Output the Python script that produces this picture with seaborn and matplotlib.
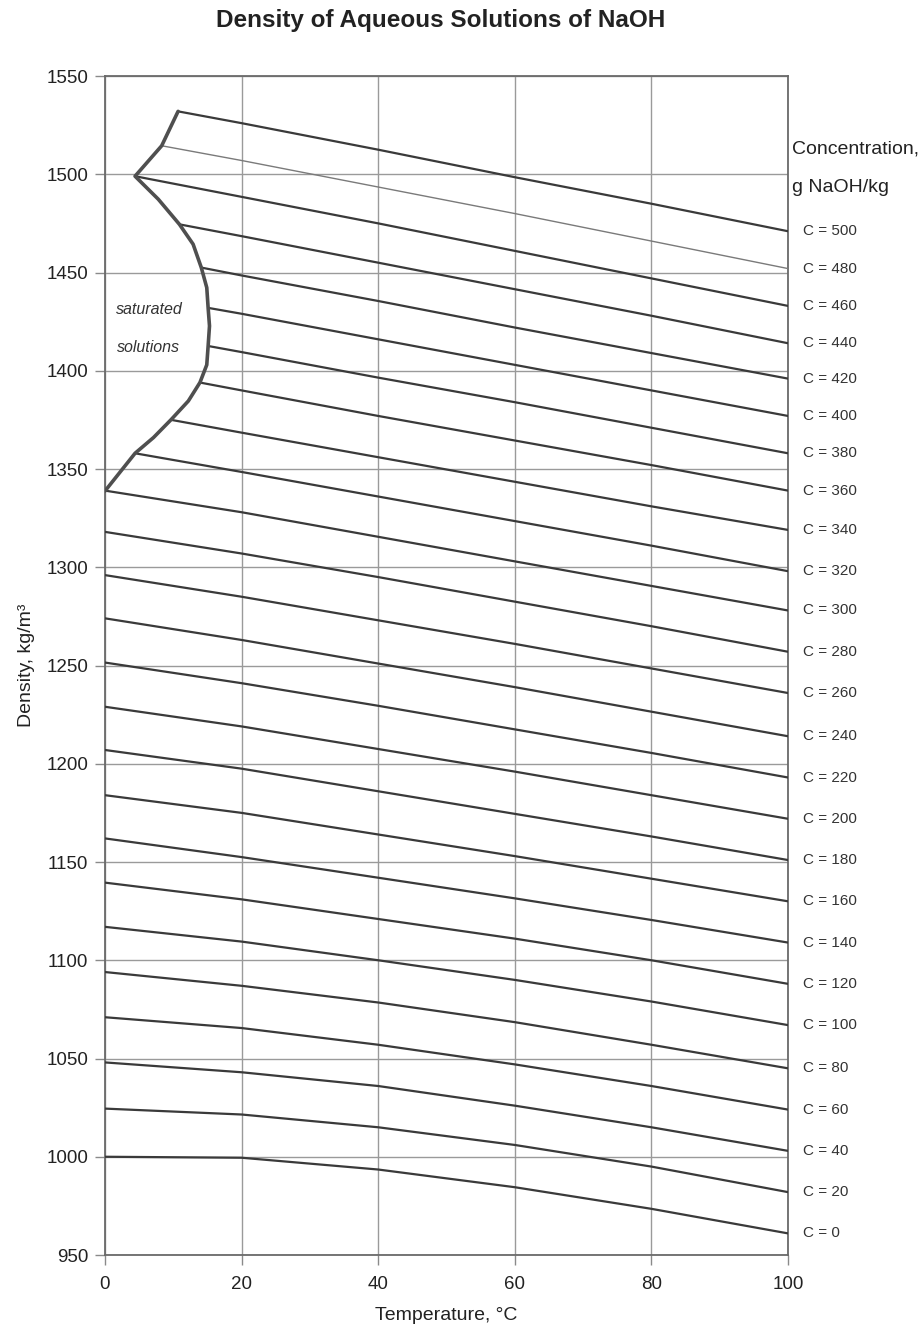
import matplotlib
matplotlib.use("Agg")
import matplotlib.pyplot as plt
import seaborn as sns
import pandas as pd

# ---------------- data ----------------
concentrations = [0, 20, 40, 60, 80, 100, 120, 140, 160, 180, 200, 220, 240,
                  260, 280, 300, 320, 340, 360, 380, 400, 420, 440, 460, 480, 500]
# starting point of each isoline (T=0 or on the saturation curve)
start_T = [0, 0, 0, 0, 0, 0, 0, 0, 0, 0, 0, 0, 0, 0, 0, 0,
           4.4, 9.7, 13.9, 15.1, 15.1, 14.1, 10.9, 4.4, 8.3, 10.7]
start_D = [1000, 1024.5, 1048, 1071, 1094, 1117, 1139.5, 1162, 1184, 1207,
           1229, 1251.5, 1274, 1296, 1318, 1339, 1358, 1375, 1394, 1412.6,
           1432, 1452.5, 1474.5, 1499, 1514.5, 1532]
dens_T20 = [999.5, 1021.5, 1043, 1065.5, 1087, 1109.5, 1131, 1152.5, 1175, 1197.5,
            1219, 1241, 1263, 1285, 1307, 1328, 1348.5, 1368.5, 1390, 1409.5,
            1429, 1448.5, 1468.5, 1488.5, 1507, 1526]
dens_T40 = [993.5, 1015, 1036, 1057, 1078.5, 1100, 1121, 1142, 1164, 1186,
            1207.5, 1229.5, 1251, 1273, 1295, 1315.5, 1336, 1356, 1377, 1396.5,
            1416, 1435.5, 1455, 1475, 1493.5, 1512.5]
dens_T60 = [984.5, 1006, 1026, 1047, 1068.5, 1090, 1111, 1131.5, 1153, 1174.5,
            1196, 1217.5, 1239, 1261, 1282.5, 1303, 1323.5, 1343.5, 1364.5, 1384,
            1403, 1422, 1441.5, 1461, 1480, 1498.5]
dens_T80 = [973.5, 995, 1015, 1036, 1057, 1079, 1100, 1120.5, 1141.5, 1163,
            1184, 1205.5, 1226.5, 1248.5, 1270, 1290.5, 1311, 1331, 1352, 1371,
            1390, 1409, 1428, 1447, 1466, 1485]
dens_T100 = [961, 982, 1003, 1024, 1045, 1067, 1088, 1109, 1130, 1151,
             1172, 1193, 1214, 1236, 1257, 1278, 1298, 1319, 1339, 1358,
             1377, 1396, 1414, 1433, 1452, 1471]
later_T = [20, 40, 60, 80, 100]

# saturation boundary (temperature, density)
sat_curve_T = [0, 4.4, 7.1, 9.7, 12.2, 13.9, 14.9, 15.1, 15.3, 15.1, 14.9,
               14.1, 12.9, 10.9, 7.8, 4.4, 8.3, 10.7]
sat_curve_D = [1338.8, 1358, 1366, 1375.2, 1384.6, 1394, 1403, 1412.6, 1422.8,
               1432, 1442.3, 1452.5, 1464.4, 1474.5, 1487.3, 1499, 1514.5, 1532]

# ---------------- build long table ----------------
rows = []
for i, c in enumerate(concentrations):
    rows.append((c, start_T[i], start_D[i]))
    for t, col in zip(later_T, [dens_T20, dens_T40, dens_T60, dens_T80, dens_T100]):
        rows.append((c, t, col[i]))
df = pd.DataFrame(rows, columns=["C", "T", "D"])
sat_df = pd.DataFrame({"T": sat_curve_T, "D": sat_curve_D})

# ---------------- plot ----------------
sns.set_theme(style="white")
plt.rcParams["font.family"] = ["Liberation Sans", "DejaVu Sans"]

W, H = 923, 1329
fig = plt.figure(figsize=(W / 100, H / 100), dpi=100)
ax = fig.add_axes([105 / W, 1 - 1255 / H, (788 - 105) / W, (1255 - 76) / H])

line_col = "#3a3a3a"
for c in concentrations:
    sub = df[df["C"] == c]
    if c == 480:
        sns.lineplot(data=sub, x="T", y="D", ax=ax, color="#7a7a7a", lw=1.0,
                     estimator=None, sort=False, zorder=3)
    else:
        sns.lineplot(data=sub, x="T", y="D", ax=ax, color=line_col, lw=1.6,
                     estimator=None, sort=False, zorder=3)

sns.lineplot(data=sat_df, x="T", y="D", ax=ax, color="#4f4f4f", lw=2.6,
             estimator=None, sort=False, zorder=4)

ax.set_xlim(0, 100)
ax.set_ylim(950, 1550)
ax.set_xticks(range(0, 101, 20))
ax.set_yticks(range(950, 1551, 50))
ax.grid(True, color="#9a9a9a", lw=1.0)
ax.set_axisbelow(True)
for s in ax.spines.values():
    s.set_color("#6a6a6a")
    s.set_linewidth(1.3)
ax.tick_params(axis="both", direction="out", length=7, width=1.0,
               color="#8a8a8a", labelsize=13.5, labelcolor="#222222",
               bottom=True, left=True)
ax.tick_params(axis="x", pad=8)
ax.tick_params(axis="y", pad=5)

ax.set_xlabel("Temperature, °C", fontsize=14, color="#222222", labelpad=10)
ax.set_ylabel("Density, kg/m³", fontsize=14, color="#222222", labelpad=8)

# right-hand labels
for c, d in zip(concentrations, dens_T100):
    ax.text(102.2, d, f"C = {c}", fontsize=11, color="#333333",
            ha="left", va="center", clip_on=False)
ax.text(100.6, 1512.7, "Concentration,", fontsize=14, color="#222222",
        ha="left", va="center", clip_on=False)
ax.text(100.6, 1493.4, "g NaOH/kg", fontsize=14, color="#222222",
        ha="left", va="center", clip_on=False)

ax.text(6.5, 1431, "saturated", fontsize=11.5, style="italic", color="#333333",
        ha="center", va="center")
ax.text(6.3, 1412, "solutions", fontsize=11.5, style="italic", color="#333333",
        ha="center", va="center")

fig.text(0.477, 1 - 20 / H, "Density of Aqueous Solutions of NaOH",
         fontsize=17.5, fontweight="bold", color="#222222",
         ha="center", va="center")

fig.savefig("out.png", dpi=100, facecolor="white")
